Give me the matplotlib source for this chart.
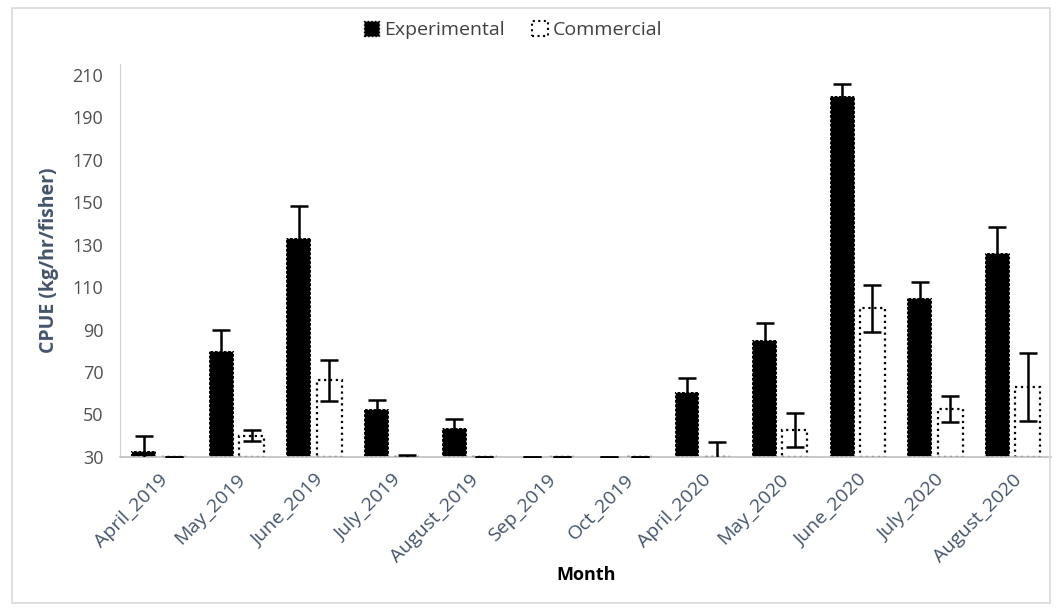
import matplotlib
matplotlib.use("Agg")
import matplotlib.pyplot as plt
import numpy as np
from matplotlib.patches import Rectangle, Patch

months = ["April_2019", "May_2019", "June_2019", "July_2019", "August_2019",
          "Sep_2019", "Oct_2019", "April_2020", "May_2020", "June_2020",
          "July_2020", "August_2020"]
experimental = [33, 80, 133, 52.5, 43.5, 30, 30, 60.5, 85, 200, 105, 126]
experimental_err = [7, 10, 15, 4.5, 4.5, 0, 0, 6.5, 8, 5.5, 7.5, 12.5]
commercial = [30, 40, 66, 30, 30, 30, 30, 30, 42.5, 100, 52.5, 63]
commercial_err = [0, 2.5, 9.5, 1, 0, 0, 0, 7, 8, 11, 6, 16]

plt.rcParams['font.family'] = ['Open Sans', 'DejaVu Sans']

fig = plt.figure(figsize=(10.62, 6.10), dpi=100)
fig.patches.append(Rectangle((0.011, 0.012), 0.978, 0.975, transform=fig.transFigure,
                             fill=False, edgecolor='#d9d9d9', linewidth=1.2))
ax = fig.add_axes([0.113, 0.251, 0.877, 0.6436])

base = 30
x = np.arange(len(months))
w = 0.32
off = 0.195
exp_h = [v - base for v in experimental]
com_h = [v - base for v in commercial]

ax.bar(x - off, exp_h, w, bottom=base, color='black', edgecolor='white',
       linestyle=':', linewidth=1.2, zorder=2)
ax.bar(x + off, com_h, w, bottom=base, color='white', edgecolor='black',
       linestyle=':', linewidth=1.6, zorder=2)

ax.errorbar(x - off, experimental, yerr=experimental_err, fmt='none', ecolor='black',
            elinewidth=1.8, capsize=6.5, capthick=1.8, zorder=3)
ax.errorbar(x + off, commercial, yerr=commercial_err, fmt='none', ecolor='black',
            elinewidth=1.8, capsize=6.5, capthick=1.8, zorder=3)

ax.set_xlim(-0.5, len(months) - 0.5)
ax.set_ylim(30, 215)
ax.set_yticks(np.arange(30, 211, 20))
ax.set_xticks(x)
ax.set_xticklabels(months, rotation=45, ha='right', rotation_mode='anchor',
                   fontsize=14, color='#44546a')
ax.tick_params(axis='y', labelsize=13, labelcolor='#505050', length=0, pad=12)
ax.tick_params(axis='x', length=0, pad=10)

for s in ['top', 'right']:
    ax.spines[s].set_visible(False)
ax.spines['left'].set_color('#d0d0d0')
ax.spines['bottom'].set_color('#bfbfbf')
ax.spines['bottom'].set_linewidth(1.2)

ax.set_ylabel('CPUE (kg/hr/fisher)', fontsize=14, fontweight='bold', color='#44546a',
              labelpad=10)
ax.set_xlabel('Month', fontsize=13, fontweight='bold', color='black', labelpad=0)

handles = [Patch(facecolor='black', edgecolor='black', linestyle=':', label='Experimental'),
           Patch(facecolor='white', edgecolor='black', linestyle=':', linewidth=1.5,
                 label='Commercial')]
fig.legend(handles=handles, loc='center', bbox_to_anchor=(0.483, 0.951), ncol=2,
           frameon=False, fontsize=14, handlelength=0.8, handleheight=0.8,
           handletextpad=0.25, columnspacing=1.4, labelcolor='#404040')

fig.savefig('out.png', dpi=100)
